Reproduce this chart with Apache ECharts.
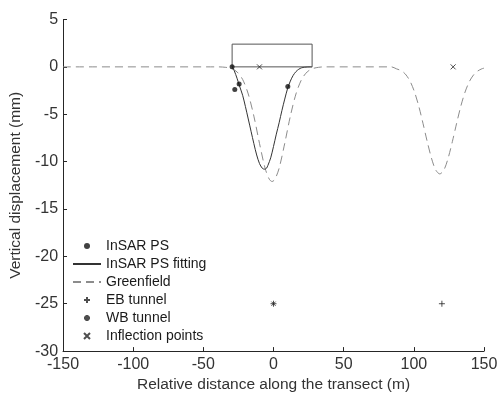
<!DOCTYPE html>
<html>
<head>
<meta charset="utf-8">
<script src="https://cdn.jsdelivr.net/npm/echarts@6/dist/echarts.min.js"></script>
<style>html,body{margin:0;padding:0;background:#fff}#c{width:501px;height:398px}</style>
</head>
<body>
<div id="c"></div>
<script>
// ---- data ----
var insarPS = [[-29.5, 0], [-27.6, -2.4], [-24.5, -1.8], [10.2, -2.06]];
var insarFit = [[-29.5, 0], [-28, -0.4], [-26, -1.2], [-24.5, -1.9], [-22, -3.0], [-20, -4.2], [-18, -5.5], [-16, -6.8], [-14, -8.1], [-12, -9.3], [-10, -10.2], [-8, -10.7], [-6.5, -10.8], [-5, -10.7], [-4, -10.4], [-2, -9.6], [0, -8.4], [2, -7.1], [4, -5.9], [6, -4.6], [8, -3.4], [10, -2.3], [12, -1.5], [14, -0.9], [16, -0.5], [18, -0.25], [20, -0.1], [22, -0.04], [24, -0.01], [26, 0], [27.5, 0]];
var greenfield = [[-150, 0], [-40, 0], [-34, -0.05], [-30, -0.18], [-26, -0.53], [-22, -1.33], [-18, -2.86], [-14, -5.2], [-10, -8.07], [-6, -10.7], [-3, -11.86], [-1, -12.1], [1, -11.86], [4, -10.7], [8, -8.07], [12, -5.2], [16, -2.86], [20, -1.33], [24, -0.53], [28, -0.18], [32, -0.05], [36, 0], [84, 0], [87.5, -0.2], [91.5, -0.44], [94.5, -0.86], [97.5, -1.57], [100.5, -2.66], [103.5, -4.14], [106.5, -5.95], [109.5, -7.86], [112.5, -9.6], [115.5, -10.86], [118.5, -11.3], [121.5, -10.86], [124.5, -9.6], [127.5, -7.86], [130.5, -5.95], [133.5, -4.14], [136.5, -2.66], [139.5, -1.57], [142.5, -0.86], [145.5, -0.44], [148.5, -0.2], [150, -0.14]];
var building = [[-29.5, 0], [-29.5, 2.4], [27.5, 2.4], [27.5, 0], [-29.5, 0]];
var ebTunnel = [[120, -25]];
var wbTunnel = [[0, -25]];
var inflection = [[-10, 0], [128, 0]];
var xTicks = {min: -150, max: 150, step: 50};
var yTicks = {min: -30, max: 5, step: 5};
var names = ['InSAR PS', 'InSAR PS fitting', 'Greenfield', 'EB tunnel', 'WB tunnel', 'Inflection points'];

var FONT = 'Liberation Sans, Arial, sans-serif';
var AX = '#262626';
var plusPath = 'path://M5,0L5,10M0,5L10,5';
var crossPath = 'path://M0,0L10,10M10,0L0,10';
var starPath = 'path://M5,0L5,10M0,5L10,5M1.5,1.5L8.5,8.5M8.5,1.5L1.5,8.5';

var legendData = names.map(function (n) {
  if (n === 'InSAR PS fitting' || n === 'Greenfield') {
    return {name: n, itemStyle: {opacity: 0}};
  }
  return {name: n};
});

var chart = echarts.init(document.getElementById('c'), null, {renderer: 'canvas'});
chart.setOption({
  animation: false,
  backgroundColor: '#fff',
  grid: {left: 60, right: 17, top: 19.5, bottom: 43.5},
  legend: {
    orient: 'vertical', left: 72, top: 239, padding: 0,
    itemWidth: 28, itemHeight: 6, itemGap: 4,
    textStyle: {fontSize: 14, color: '#1a1a1a', fontFamily: FONT},
    data: legendData
  },
  xAxis: {
    type: 'value', min: xTicks.min, max: xTicks.max, interval: xTicks.step,
    name: 'Relative distance along the transect (m)', nameLocation: 'middle', nameGap: 25,
    nameTextStyle: {fontSize: 15.5, color: '#333', fontFamily: FONT},
    axisLine: {onZero: false, lineStyle: {color: AX, width: 1}},
    axisTick: {inside: true, length: 4, lineStyle: {color: AX}},
    axisLabel: {fontSize: 16, color: '#333', fontFamily: FONT, margin: 5},
    splitLine: {show: false}
  },
  yAxis: {
    type: 'value', min: yTicks.min, max: yTicks.max, interval: yTicks.step,
    name: 'Vertical displacement (mm)', nameLocation: 'middle', nameGap: 31,
    nameTextStyle: {fontSize: 15.5, color: '#333', fontFamily: FONT},
    axisLine: {show: true, onZero: false, lineStyle: {color: AX, width: 1}},
    axisTick: {show: true, inside: true, length: 4, lineStyle: {color: AX}},
    axisLabel: {fontSize: 16, color: '#333', fontFamily: FONT, margin: 5},
    splitLine: {show: false}
  },
  series: [
    {name: 'Greenfield', type: 'line', data: greenfield, symbol: 'none', smooth: 0.3,
     lineStyle: {color: '#8c8c8c', width: 1, type: [8, 5]}, itemStyle: {color: '#8c8c8c'}, z: 2},
    {name: 'InSAR PS fitting', type: 'line', data: insarFit, symbol: 'none', smooth: 0.3,
     lineStyle: {color: '#333', width: 1}, itemStyle: {color: '#333'}, z: 3},
    {name: 'building', type: 'line', data: building, symbol: 'none',
     lineStyle: {color: '#555', width: 1}, z: 3},
    {name: 'InSAR PS', type: 'scatter', data: insarPS, symbol: 'circle', symbolSize: 5,
     itemStyle: {color: '#111'}, z: 5},
    {name: 'EB tunnel', type: 'scatter', data: ebTunnel, symbol: plusPath, symbolSize: 6,
     itemStyle: {color: 'rgba(0,0,0,0)', borderColor: '#222', borderWidth: 1}, z: 5},
    {name: 'WB tunnel', type: 'scatter', data: wbTunnel, symbol: starPath, symbolSize: 6,
     itemStyle: {color: 'rgba(0,0,0,0)', borderColor: '#222', borderWidth: 1}, z: 5},
    {name: 'Inflection points', type: 'scatter', data: inflection, symbol: crossPath, symbolSize: 5,
     itemStyle: {color: 'rgba(0,0,0,0)', borderColor: '#222', borderWidth: 1}, z: 5}
  ]
});
</script>
</body>
</html>
